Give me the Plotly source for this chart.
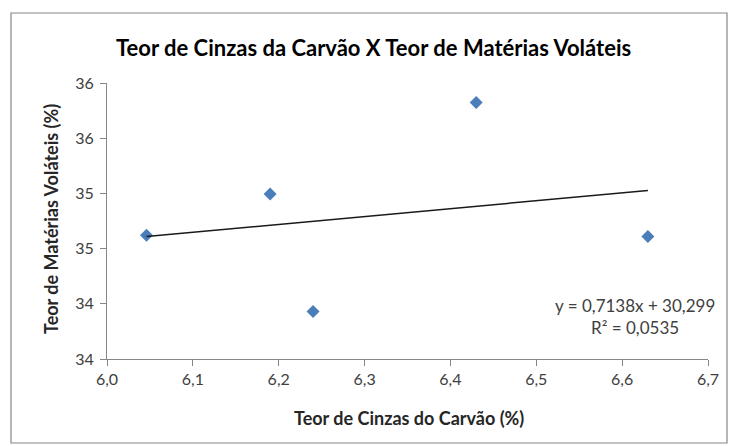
import numpy as np
import plotly.graph_objects as go

# Data
cinzas = [6.046, 6.190, 6.240, 6.430, 6.630]        # Teor de Cinzas do Carvão (%)
volateis = [34.62, 34.995, 33.93, 35.824, 34.61]    # Teor de Matérias Voláteis (%)

x_ticks = [6.0, 6.1, 6.2, 6.3, 6.4, 6.5, 6.6, 6.7]
y_ticks = [33.5, 34.0, 34.5, 35.0, 35.5, 36.0]
y_tick_labels = ["34", "34", "35", "35", "36", "36"]

title_text = "Teor de Cinzas da Carvão X Teor de Matérias Voláteis"
x_title = "Teor de Cinzas do Carvão (%)"
y_title = "Teor de Matérias Voláteis (%)"
eq_text = "y = 0,7138x + 30,299<br>R² = 0,0535"

# Linear trendline fitted to the data
slope, intercept = np.polyfit(cinzas, volateis, 1)
trend_x = [min(cinzas), max(cinzas)]
trend_y = [slope * v + intercept for v in trend_x]

W, H = 731, 446
ML, MR, MT, MB = 107, 23, 83, 87
PW, PH = W - ML - MR, H - MT - MB

FONT = "Lato"
AXIS_GRAY = "#868686"

fig = go.Figure()
fig.add_trace(go.Scatter(
    x=cinzas, y=volateis, mode="markers",
    marker=dict(symbol="diamond", size=10, color="#4A7EBB",
                line=dict(width=0)),
    showlegend=False, hoverinfo="x+y"))
fig.add_trace(go.Scatter(
    x=trend_x, y=trend_y, mode="lines",
    line=dict(color="#1a1a1a", width=1.5),
    showlegend=False, hoverinfo="skip"))

def px_to_paper_x(px):
    return (px - ML) / PW

def px_to_paper_y(py):
    return (H - MB - py) / PH

fig.update_layout(
    width=W, height=H,
    margin=dict(l=ML, r=MR, t=MT, b=MB),
    paper_bgcolor="white", plot_bgcolor="white",
    separators=",.",
    font=dict(family=FONT, size=16, color="#404040"),
    xaxis=dict(range=[6.0, 6.7], tickvals=x_ticks, tickformat=".1f",
               showgrid=False, zeroline=False, showline=True,
               linecolor=AXIS_GRAY, linewidth=1, ticks="outside",
               ticklen=6, tickcolor=AXIS_GRAY,
               tickfont=dict(family=FONT, size=16, color="#404040")),
    yaxis=dict(range=[33.5, 36.0], tickvals=y_ticks, ticktext=y_tick_labels,
               showgrid=False, zeroline=False, showline=True,
               linecolor=AXIS_GRAY, linewidth=1, ticks="outside",
               ticklen=6, tickcolor=AXIS_GRAY, ticklabelstandoff=3,
               tickfont=dict(family=FONT, size=16, color="#404040")),
    shapes=[dict(type="rect", xref="paper", yref="paper",
                 x0=px_to_paper_x(11), x1=px_to_paper_x(727),
                 y0=px_to_paper_y(443), y1=px_to_paper_y(13),
                 line=dict(color=AXIS_GRAY, width=1.2), layer="below")],
    annotations=[
        dict(text="<b>" + title_text + "</b>", xref="paper", yref="paper",
             x=px_to_paper_x(373), y=px_to_paper_y(47),
             xanchor="center", yanchor="middle", showarrow=False,
             font=dict(family=FONT, size=22, color="#000000")),
        dict(text="<b>" + x_title + "</b>", xref="paper", yref="paper",
             x=px_to_paper_x(409), y=px_to_paper_y(418),
             xanchor="center", yanchor="middle", showarrow=False,
             font=dict(family=FONT, size=18, color="#262626")),
        dict(text="<b>" + y_title + "</b>", xref="paper", yref="paper",
             x=px_to_paper_x(51), y=px_to_paper_y(219),
             xanchor="center", yanchor="middle", showarrow=False,
             textangle=-90,
             font=dict(family=FONT, size=18, color="#262626")),
        dict(text=eq_text, xref="paper", yref="paper",
             x=px_to_paper_x(635), y=px_to_paper_y(316),
             xanchor="center", yanchor="middle", align="center",
             showarrow=False,
             font=dict(family=FONT, size=17, color="#404040")),
    ],
)

fig.write_html("out.html",
               config={"displayModeBar": False},
               post_script="document.body.style.margin='0px';"
                           "document.body.style.overflow='hidden';")
